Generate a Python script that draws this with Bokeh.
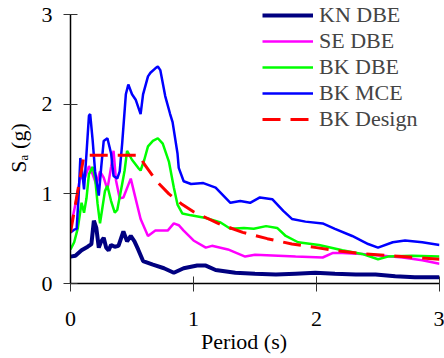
from bokeh.plotting import figure
from bokeh.models import Legend, LegendItem, Range1d, FixedTicker
from bokeh.embed import file_html
from bokeh.resources import INLINE

# ---- data ----
kn_t = [0.00, 0.04, 0.09, 0.14, 0.17, 0.19, 0.21, 0.23, 0.25, 0.27, 0.29, 0.31, 0.33, 0.36,
        0.39, 0.43, 0.46, 0.49, 0.52, 0.55, 0.59, 0.67, 0.76, 0.84, 0.92, 1.03, 1.10, 1.18,
        1.34, 1.50, 1.67, 1.83, 1.99, 2.15, 2.32, 2.48, 2.64, 2.80, 3.00]
kn_sa = [0.30, 0.31, 0.37, 0.41, 0.44, 0.70, 0.62, 0.40, 0.47, 0.51, 0.40, 0.37, 0.43, 0.41,
         0.42, 0.58, 0.47, 0.53, 0.47, 0.38, 0.25, 0.21, 0.17, 0.12, 0.17, 0.20, 0.20, 0.15,
         0.12, 0.11, 0.10, 0.11, 0.12, 0.11, 0.10, 0.10, 0.08, 0.07, 0.07]

se_t = [0.00, 0.05, 0.08, 0.11, 0.15, 0.18, 0.21, 0.24, 0.27, 0.30, 0.33, 0.35, 0.37, 0.40,
        0.43, 0.47, 0.49, 0.52, 0.57, 0.63, 0.69, 0.79, 0.84, 0.88, 0.92, 1.00, 1.10, 1.15,
        1.28, 1.42, 1.50, 1.69, 1.83, 2.05, 2.13, 2.21, 2.37, 2.54, 2.70, 2.86, 3.00]
se_sa = [0.62, 0.95, 1.20, 1.15, 1.31, 1.22, 1.10, 1.25, 1.18, 1.05, 1.30, 1.48, 1.15, 0.95,
         0.96, 1.10, 1.17, 1.00, 0.72, 0.53, 0.59, 0.59, 0.67, 0.65, 0.59, 0.48, 0.40, 0.42,
         0.38, 0.30, 0.32, 0.31, 0.30, 0.29, 0.34, 0.34, 0.33, 0.31, 0.29, 0.26, 0.22]

bkd_t = [0.00, 0.03, 0.06, 0.09, 0.11, 0.13, 0.15, 0.18, 0.20, 0.22, 0.24, 0.26, 0.28, 0.30,
         0.33, 0.36, 0.38, 0.42, 0.44, 0.46, 0.50, 0.55, 0.57, 0.60, 0.63, 0.67, 0.71, 0.75,
         0.80, 0.84, 0.87, 0.91, 0.98, 1.10, 1.22, 1.30, 1.41, 1.49, 1.59, 1.68, 1.75, 1.85,
         2.02, 2.21, 2.37, 2.50, 2.58, 2.78, 3.00]
bkd_sa = [0.38, 0.46, 0.62, 0.90, 0.79, 0.95, 1.22, 1.30, 1.18, 0.89, 0.67, 0.85, 1.03, 1.09,
          0.92, 0.79, 0.82, 1.11, 1.26, 1.48, 1.38, 1.29, 1.26, 1.38, 1.53, 1.59, 1.62, 1.56,
          1.36, 1.07, 0.88, 0.78, 0.76, 0.73, 0.68, 0.61, 0.62, 0.61, 0.64, 0.62, 0.53, 0.46,
          0.43, 0.37, 0.33, 0.27, 0.30, 0.31, 0.30]

bkm_t = [0.00, 0.03, 0.05, 0.065, 0.08, 0.095, 0.11, 0.13, 0.15, 0.16, 0.18, 0.20, 0.23, 0.25,
         0.27, 0.30, 0.33, 0.35, 0.38, 0.40, 0.42, 0.45, 0.47, 0.50, 0.53, 0.57, 0.59, 0.63,
         0.65, 0.69, 0.71, 0.73, 0.77, 0.81, 0.83, 0.87, 0.88, 0.92, 0.98, 1.08, 1.18, 1.30,
         1.38, 1.46, 1.54, 1.64, 1.73, 1.80, 1.91, 2.05, 2.15, 2.29, 2.42, 2.50, 2.62, 2.72,
         2.86, 3.00]
bkm_sa = [0.57, 0.60, 0.61, 0.95, 1.40, 1.25, 1.05, 1.45, 1.87, 1.89, 1.60, 1.25, 0.98, 1.30,
          1.59, 1.62, 1.45, 1.20, 1.17, 1.25, 1.56, 2.11, 2.22, 2.11, 2.05, 1.89, 2.11, 2.31,
          2.35, 2.40, 2.42, 2.38, 2.09, 1.89, 1.80, 1.45, 1.29, 1.14, 1.11, 1.12, 1.07, 0.90,
          0.92, 0.90, 0.96, 0.94, 0.81, 0.72, 0.69, 0.67, 0.61, 0.53, 0.44, 0.40, 0.46, 0.48,
          0.46, 0.43]

des_t = [0.00, 0.11, 0.20, 0.30, 0.40, 0.50, 0.56, 0.60, 0.70, 0.80, 0.90, 1.00, 1.20, 1.40,
         1.60, 1.80, 2.00, 2.20, 2.40, 2.60, 2.80, 3.00]
des_sa = [0.57, 1.43, 1.43, 1.43, 1.43, 1.43, 1.43, 1.33, 1.14, 1.00, 0.89, 0.80, 0.67, 0.57,
          0.50, 0.44, 0.40, 0.36, 0.33, 0.31, 0.29, 0.27]

x_ticks = [0, 1, 2, 3]
y_ticks = [0, 1, 2, 3]
x_title = "Period (s)"
y_title = "S\u2090 (g)"
series_names = ["KN DBE", "SE DBE", "BK DBE", "BK MCE", "BK Design"]

FONT = "Liberation Serif"
NBSP = "\u00a0"

p = figure(width=444, height=358, output_backend="svg", toolbar_location=None,
           x_range=Range1d(0, 3), y_range=Range1d(0, 3.145),
           min_border_left=70, min_border_right=5, min_border_top=1, min_border_bottom=75)
p.outline_line_color = None
p.grid.visible = False
p.background_fill_color = "white"
p.border_fill_color = "white"

p.yaxis.bounds = (y_ticks[0], y_ticks[-1])

for ax, ticks, standoff, tout in ((p.xaxis[0], x_ticks, 20, 8), (p.yaxis[0], y_ticks, 11, 7)):
    ax.ticker = FixedTicker(ticks=ticks)
    ax.minor_tick_line_color = None
    ax.major_tick_in = 7
    ax.major_tick_out = tout
    ax.axis_line_color = "black"
    ax.axis_line_width = 1.5
    ax.major_tick_line_color = "#333333"
    ax.major_tick_line_width = 1
    ax.major_label_text_font = FONT
    ax.major_label_text_font_size = "22px"
    ax.major_label_text_color = "black"
    ax.major_label_standoff = standoff
    ax.axis_label_text_font = FONT
    ax.axis_label_text_font_size = "22px"
    ax.axis_label_text_font_style = "normal"
    ax.axis_label_text_color = "black"

# non-breaking spaces nudge the centred titles to where the reference has them
p.xaxis.axis_label = x_title + NBSP * 4
p.xaxis.axis_label_standoff = 0
p.yaxis.axis_label = y_title + NBSP * 2
p.yaxis.axis_label_standoff = 8

r_kn = p.line(kn_t, kn_sa, line_color="#000080", line_width=4)
r_se = p.line(se_t, se_sa, line_color="#FF00FF", line_width=2.5)
r_bkd = p.line(bkd_t, bkd_sa, line_color="#00FF00", line_width=2.5)
r_bkm = p.line(bkm_t, bkm_sa, line_color="#0000FF", line_width=2.5)
r_des = p.line(des_t, des_sa, line_color="#FF0000", line_width=3, line_dash="18 10")

renderers = [r_kn, r_se, r_bkd, r_bkm, r_des]
legend = Legend(items=[LegendItem(label=n, renderers=[r]) for n, r in zip(series_names, renderers)],
                location=(192, 151))
legend.label_text_font = FONT
legend.label_text_font_size = "22px"
legend.glyph_width = 51
legend.glyph_height = 20
legend.label_height = 20
legend.label_standoff = 6
legend.spacing = 0
legend.padding = 0
legend.margin = 0
legend.border_line_color = None
legend.background_fill_alpha = 0
p.add_layout(legend)

open("out.html", "w").write(file_html(p, INLINE))
